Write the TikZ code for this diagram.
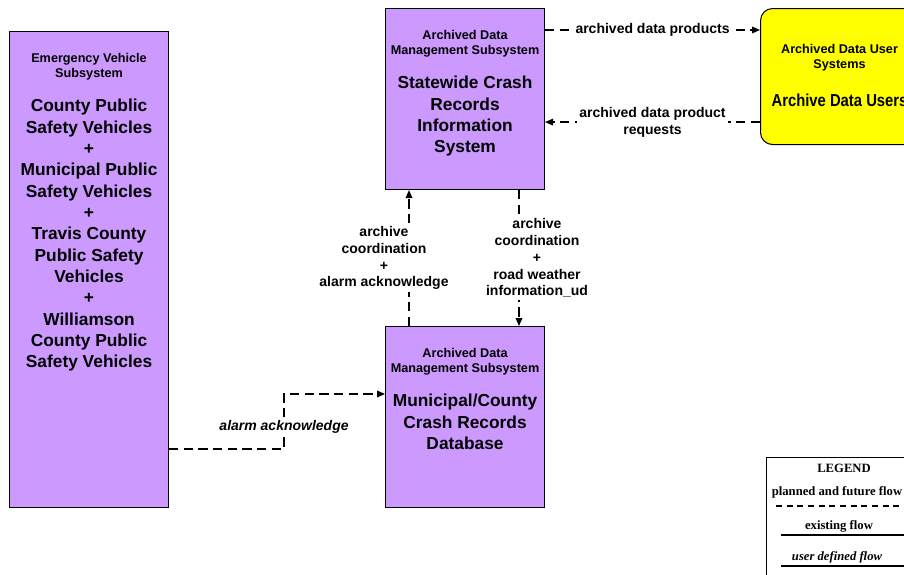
\documentclass[tikz,border=0pt]{standalone}
\usepackage{graphicx}
\usepackage{fontspec}
\setmainfont{Liberation Sans}
\newfontfamily\legserif{Liberation Serif}
\usetikzlibrary{arrows.meta,positioning,calc}
\definecolor{subpurple}{HTML}{CC99FF}
\definecolor{useryellow}{HTML}{FFFF00}
\newcommand{\hdrfont}{\fontsize{9.5}{11.25}\selectfont}
\newcommand{\namefont}{\fontsize{13}{16}\selectfont}
\newcommand{\lblfont}{\fontsize{10.5}{12.6}\selectfont}
\newcommand{\legfont}{\legserif\fontsize{9.5}{11}\selectfont}

\begin{document}
\begin{tikzpicture}[
    x=0.75pt, y=-0.75pt,
    >={Triangle[length=6pt,width=5pt]},
    subsys/.style={
        rectangle, draw, line width=0.8pt, fill=subpurple,
        minimum width=119.25pt, minimum height=135.75pt, anchor=north west
    },
    usersys/.style={
        subsys, fill=useryellow, rounded corners=9pt,
        minimum width=118.5pt, minimum height=102pt
    },
    hdr/.style={align=center, inner sep=0pt, font=\hdrfont\bfseries},
    nm/.style={align=center, inner sep=0pt, font=\namefont\bfseries},
    flow/.style={->, dash pattern=on 7pt off 4pt, line width=0.9pt},
    lbl/.style={fill=white, inner sep=1.5pt, align=center, font=\lblfont\bfseries},
    legtxt/.style={inner sep=0pt, font=\legfont\bfseries}
]
    \clip (0,0) rectangle (904,575);

    \node[subsys, minimum height=357pt] (ev) at (9,31) {};
    \node[hdr, below=16.5pt of ev.north] (evhd) {Emergency Vehicle\\Subsystem};
    \node[nm, below=14pt of evhd] (evnm) {County Public\\Safety Vehicles\\+\\Municipal Public\\Safety Vehicles\\+\\Travis County\\Public Safety\\Vehicles\\+\\Williamson\\County Public\\Safety Vehicles};

    \node[subsys] (sw) at (385,8) {};
    \node[hdr, below=16.5pt of sw.north] (swhd) {Archived Data\\Management Subsystem};
    \node[nm, below=14pt of swhd] (swnm) {Statewide Crash\\Records\\Information\\System};

    \node[subsys] (mc) at (385,326) {};
    \node[hdr, below=16.5pt of mc.north] (mchd) {Archived Data\\Management Subsystem};
    \node[nm, below=14pt of mchd] (mcnm) {Municipal/County\\Crash Records\\Database};

    \node[usersys] (ad) at (760,8) {};
    \node[hdr, below=27pt of ad.north] (adhd) {Archived Data User\\Systems};
    \node[nm, below=16.5pt of adhd] (adnm) {\scalebox{0.855}[1]{Archive Data Users}};

    \draw[flow] ($(sw.north east)+(0,22)$) coordinate (p1) -- node[lbl] (l1) {archived data products} (ad.west |- p1);
    \draw[flow] ($(ad.south west)+(0,-23)$) coordinate (p2) -- node[lbl] (l2) {archived data product\\requests} (sw.east |- p2);
    \draw[flow] ($(mc.north west)+(24,0)$) coordinate (p3) -- node[lbl, xshift=-18.75pt] (l3) {archive\\coordination\\+\\alarm acknowledge} (sw.south -| p3);
    \draw[flow] ($(sw.south west)+(134,0)$) coordinate (p4) -- node[lbl, xshift=13.5pt] (l4) {archive\\coordination\\+\\road weather\\information\_ud} (mc.north -| p4);
    \draw[flow] ($(ev.south east)+(0,-59)$) -- ++(115,0) |- node[lbl, pos=0.25, yshift=-3.75pt, font=\lblfont\bfseries\itshape] (l5) {alarm acknowledge} ($(mc.north west)+(0,68)$);

    \node[draw, line width=1.1pt, anchor=north west, minimum width=120pt, minimum height=100pt] (lg) at (766,457) {};
    \node[legtxt] (lgti) at (844,468) {LEGEND};
    \node[legtxt] (lgpl) at (837,492) {planned and future flow};
    \node[legtxt] (lgex) at (839,526) {existing flow};
    \node[legtxt, font=\legfont\bfseries\itshape] (lgud) at (837,557) {user defined flow};
    \draw[line width=1pt, dash pattern=on 4.5pt off 3.5pt] (776,506) -- (906,506);
    \draw[line width=1pt] (781,535) -- (906,535);
    \draw[line width=1pt] (781,566) -- (906,566);
\end{tikzpicture}
\end{document}
